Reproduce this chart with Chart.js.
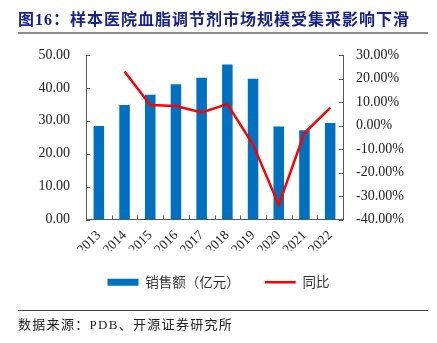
<!DOCTYPE html>
<html>
<head>
<meta charset="utf-8">
<script src="https://cdn.jsdelivr.net/npm/chart.js@4/dist/chart.umd.min.js"></script>
<style>
  body { margin: 0; background: #fff; }
  #wrap { position: relative; width: 437px; height: 343px; overflow: hidden; }
  #myChart { position: absolute; left: 0; top: 0; }
  #title {
    position: absolute; left: 18px; top: 9px; height: 22px;
    font: bold 16px "Liberation Serif", "Noto Sans CJK SC", serif;
    color: #17238c; letter-spacing: 1px; white-space: nowrap; line-height: 22px;
  }
  #titleLine { position: absolute; left: 18px; top: 32px; width: 410px; height: 2px; background: #8c8c8c; }
  #srcLine { position: absolute; left: 18px; top: 310px; width: 410px; height: 1px; background: #404040; }
  #source {
    position: absolute; left: 18px; top: 314px; height: 18px; line-height: 18px;
    font: 13px "Liberation Serif", "Noto Sans CJK SC", serif;
    color: #222; letter-spacing: 1.3px; white-space: nowrap;
  }
</style>
</head>
<body>
<div id="wrap">
  <canvas id="myChart" width="437" height="343"></canvas>
  <div id="title">图16：样本医院血脂调节剂市场规模受集采影响下滑</div>
  <div id="titleLine"></div>
  <div id="srcLine"></div>
  <div id="source">数据来源：PDB、开源证券研究所</div>
</div>
<script>
var years = ['2013', '2014', '2015', '2016', '2017', '2018', '2019', '2020', '2021', '2022'];
var sales = [28.4, 34.8, 37.9, 41.1, 43.1, 47.1, 42.8, 28.3, 27.1, 29.3];   // 亿元
var yoy = [null, 23.0, 8.7, 8.3, 5.6, 9.1, -8.1, -33.8, -3.2, 7.5];         // %

var axisColor = '#595959';
var tickFont = { family: '"Liberation Serif", "Times New Roman", serif', size: 14 };

// small tick marks pointing into the plot, like the original
var innerTicks = {
  id: 'innerTicks',
  afterDraw: function(chart) {
    var c = chart.ctx, a = chart.chartArea, s = chart.scales;
    c.save();
    c.strokeStyle = axisColor;
    c.lineWidth = 1;
    c.beginPath();
    s.y.ticks.forEach(function(t, i) {
      var py = Math.round(s.y.getPixelForTick(i)) + 0.5;
      c.moveTo(a.left, py); c.lineTo(a.left + 4, py);
    });
    s.y1.ticks.forEach(function(t, i) {
      var py = Math.round(s.y1.getPixelForTick(i)) + 0.5;
      c.moveTo(a.right - 4, py); c.lineTo(a.right, py);
    });
    for (var i = 0; i <= years.length; i++) {
      var px = Math.round(s.x.getPixelForValue(i - 0.5)) + 0.5;
      c.moveTo(px, a.bottom); c.lineTo(px, a.bottom - 4);
    }
    c.stroke();
    c.restore();
  }
};

var ctx = document.getElementById('myChart').getContext('2d');
var chart = new Chart(ctx, {
  type: 'bar',
  data: {
    labels: years,
    datasets: [{
      type: 'bar',
      label: '销售额（亿元）',
      data: sales,
      backgroundColor: '#0070c0',
      borderWidth: 0,
      categoryPercentage: 1,
      barPercentage: 0.41,
      yAxisID: 'y',
      pointStyle: 'rect',
      order: 2
    }, {
      type: 'line',
      label: '同比',
      data: yoy,
      borderColor: '#ff0000',
      backgroundColor: '#ff0000',
      borderWidth: 2.5,
      pointRadius: 0,
      tension: 0,
      yAxisID: 'y1',
      pointStyle: 'line',
      order: 1
    }]
  },
  options: {
    responsive: false,
    devicePixelRatio: 1,
    animation: false,
    layout: { padding: { top: 55, left: 0, right: 0, bottom: 44 } },
    plugins: {
      legend: {
        position: 'bottom',
        labels: {
          usePointStyle: true,
          pointStyleWidth: 31,
          boxHeight: 7,
          padding: 25,
          color: '#333',
          font: { family: '"Noto Sans CJK SC", sans-serif', size: 13.5 },
          sort: function(a, b) { return a.datasetIndex - b.datasetIndex; }
        }
      },
      tooltip: { enabled: false }
    },
    scales: {
      x: {
        grid: { display: false, drawTicks: false },
        border: { color: axisColor, width: 1 },
        ticks: { color: '#222', font: { family: tickFont.family, size: 13.5 },
          autoSkip: false, maxRotation: 45, minRotation: 45, padding: 8 },
        afterFit: function(scale) { scale.height = 31; }
      },
      y: {
        position: 'left',
        min: 0, max: 50,
        grid: { display: false, drawTicks: false },
        border: { color: axisColor, width: 1 },
        ticks: { stepSize: 10, color: '#222', font: tickFont, padding: 16,
          callback: function(v) { return v.toFixed(2); } },
        afterFit: function(scale) { scale.width = 86; }
      },
      y1: {
        position: 'right',
        min: -40, max: 30,
        grid: { display: false, drawTicks: false },
        border: { color: axisColor, width: 1 },
        ticks: { stepSize: 10, color: '#222', font: tickFont, padding: 13,
          callback: function(v) { return v.toFixed(2) + '%'; } },
        afterFit: function(scale) { scale.width = 94; }
      }
    }
  },
  plugins: [innerTicks]
});
</script>
</body>
</html>
